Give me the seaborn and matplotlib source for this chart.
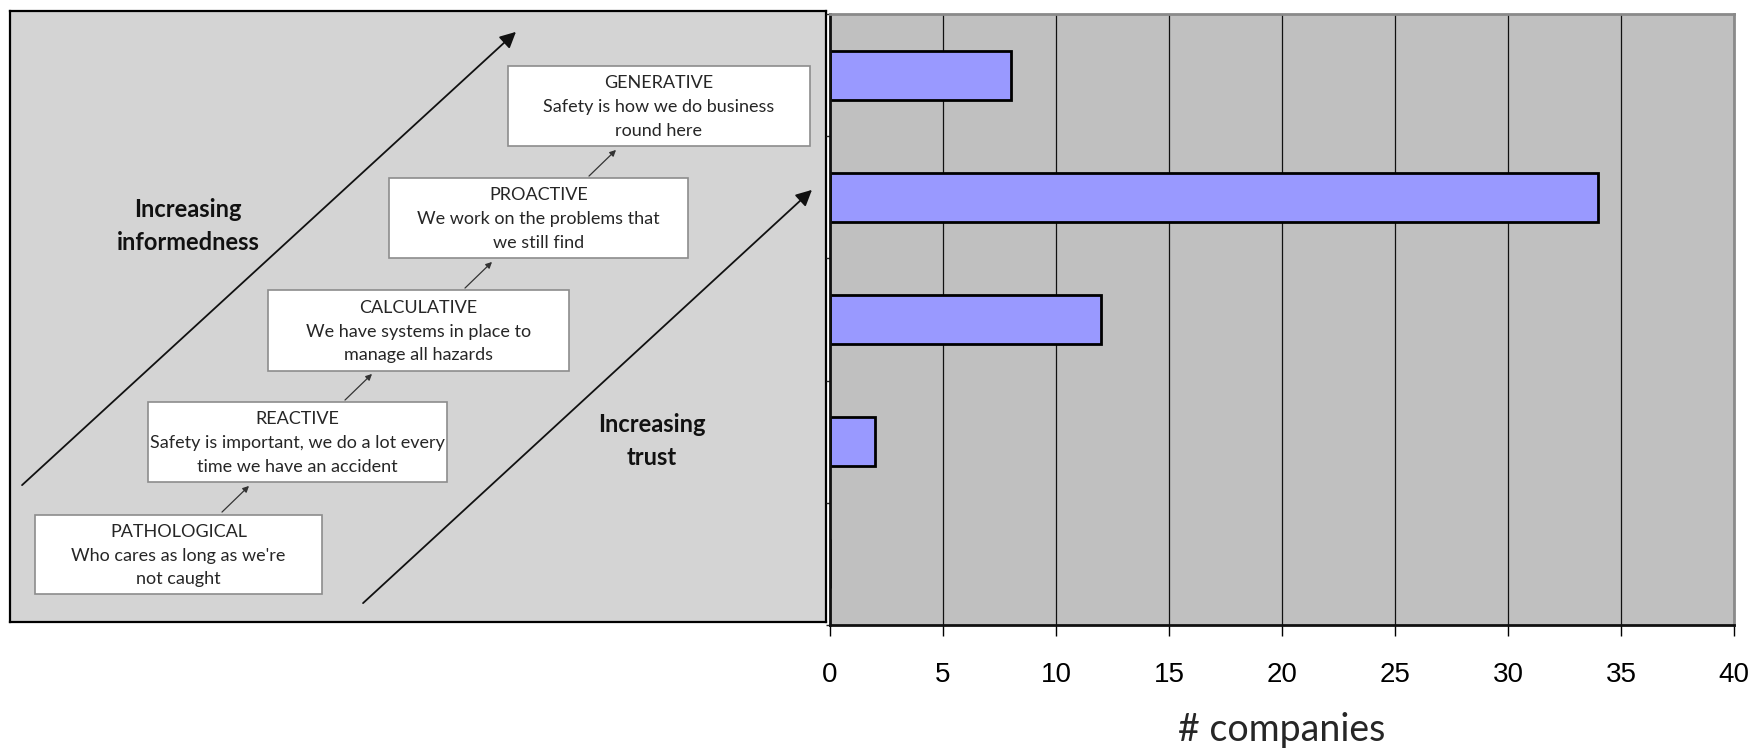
import numpy as np
import pandas as pd
import seaborn as sns
import matplotlib.pyplot as plt
from matplotlib.patches import Rectangle

# data for the bar chart
levels = ["GENERATIVE", "PROACTIVE", "CALCULATIVE", "REACTIVE", "PATHOLOGICAL"]
companies = [8, 34, 12, 2, 0]
x_ticks = [0, 5, 10, 15, 20, 25, 30, 35, 40]

# texts of the safety culture ladder
descriptions = [
    "Safety is how we do business\nround here",
    "We work on the problems that\nwe still find",
    "We have systems in place to\nmanage all hazards",
    "Safety is important, we do a lot every\ntime we have an accident",
    "Who cares as long as we're\nnot caught",
]
# ladder boxes in pixel space of the left panel: left, top, right, bottom
box_px = [
    (508, 66, 810, 146),
    (389, 178, 688, 258),
    (268, 290, 569, 371),
    (148, 402, 447, 482),
    (35, 515, 322, 594),
]
step_arrows = [
    ((220, 514), (251, 484)),
    ((343, 402), (374, 372)),
    ((463, 290), (494, 260)),
    ((587, 178), (618, 148)),
]

sns.set_style("white")
plt.rcParams["font.family"] = ["Lato", "DejaVu Sans"]

W, H = 1752, 750
fig = plt.figure(figsize=(W / 100, H / 100), dpi=100)

# ---- left panel: ladder diagram ----
ax0 = fig.add_axes([10 / W, (H - 622) / H, 816 / W, 611 / H])
ax0.set_xlim(10, 826)
ax0.set_ylim(622, 11)
ax0.set_facecolor("#D4D4D4")
ax0.set_xticks([])
ax0.set_yticks([])
for s in ax0.spines.values():
    s.set_color("black")
    s.set_linewidth(1.6)

for (l, t, r, b), name, desc in zip(box_px, levels, descriptions):
    ax0.add_patch(Rectangle((l, t), r - l, b - t, facecolor="white",
                            edgecolor="#8C8C8C", linewidth=1.2))
    ax0.text((l + r) / 2, (t + b) / 2 + 1, name + "\n" + desc, ha="center",
             va="center", multialignment="center", fontsize=13,
             color="#262626", linespacing=1.6)

for start, end in step_arrows:
    ax0.annotate("", xy=end, xytext=start,
                 arrowprops=dict(arrowstyle="-|>", mutation_scale=9,
                                 lw=0.9, color="#333333"))

ax0.annotate("", xy=(518, 30), xytext=(20, 487),
             arrowprops=dict(arrowstyle="-|>", mutation_scale=24,
                             lw=1.3, color="#111111"))
ax0.annotate("", xy=(814, 188), xytext=(361, 605),
             arrowprops=dict(arrowstyle="-|>", mutation_scale=24,
                             lw=1.3, color="#111111"))

ax0.text(188, 226, "Increasing\ninformedness", ha="center", va="center",
         fontsize=17, fontweight="bold", color="#111111", linespacing=1.5)
ax0.text(652, 441, "Increasing\ntrust", ha="center", va="center",
         fontsize=17, fontweight="bold", color="#111111", linespacing=1.5)

# ---- right panel: bar chart ----
ax = fig.add_axes([830 / W, (H - 625) / H, 904 / W, 611 / H])
df = pd.DataFrame({"level": levels, "companies": companies})
sns.barplot(data=df, x="companies", y="level", order=levels, orient="h",
            color="#9999FF", saturation=1, edgecolor="black", linewidth=2,
            width=0.4, ax=ax)

ax.set_facecolor("#C0C0C0")
ax.set_xlim(0, 40)
ax.set_ylim(4.5, -0.5)
ax.set_xticks(x_ticks)
ax.set_xticklabels([str(v) for v in x_ticks], family="Liberation Sans")
ax.set_yticks(np.arange(-0.5, len(levels), 1.0))
ax.set_yticklabels([])
ax.set_ylabel("")
ax.grid(axis="x", color="#111111", linewidth=0.9)
ax.grid(axis="y", visible=False)
ax.set_axisbelow(True)

ax.tick_params(axis="x", length=8, width=1, pad=19, labelsize=20,
               direction="out", bottom=True, colors="black")
ax.tick_params(axis="y", length=3, width=1, direction="out", left=True)

for side in ["left", "bottom"]:
    ax.spines[side].set_color("#111111")
    ax.spines[side].set_linewidth(2)
for side in ["top", "right"]:
    ax.spines[side].set_color("#8A8A8A")
    ax.spines[side].set_linewidth(2)

ax.set_xlabel("# companies", fontsize=27, family="Lato")
ax.xaxis.set_label_coords(0.5, (625 - 741) / 611)
ax.xaxis.label.set_va("baseline")

fig.savefig("out.png", dpi=100)
